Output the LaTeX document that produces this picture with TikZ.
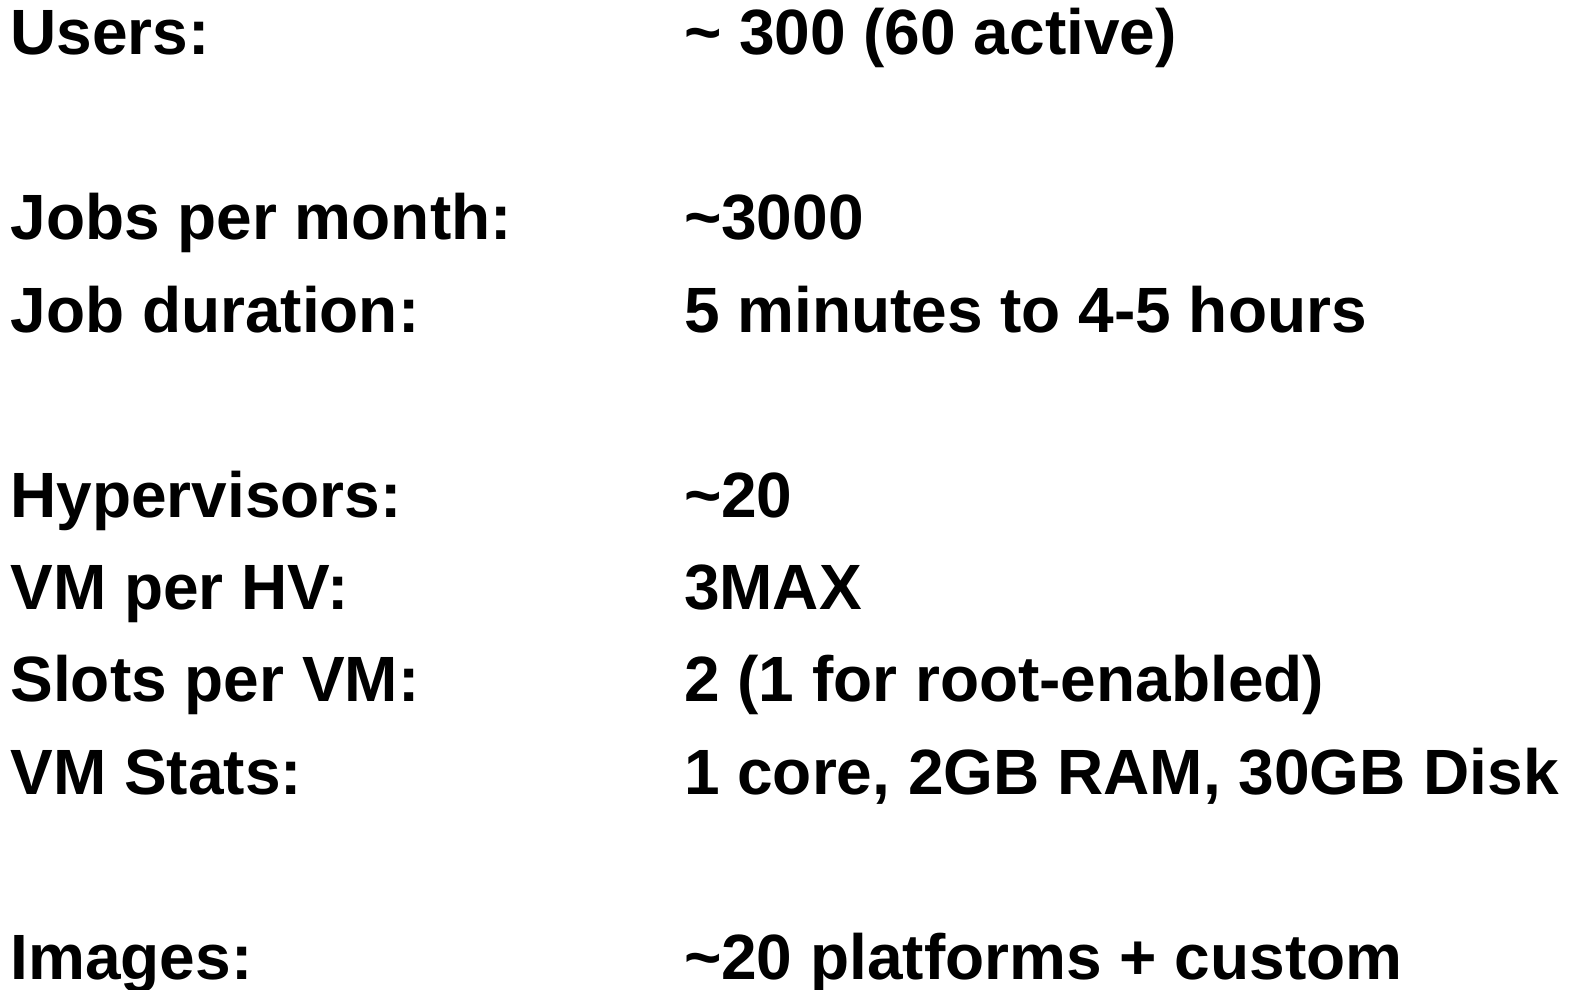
\documentclass[tikz,border=0pt]{standalone}
\usepackage{fontspec}
\setmainfont{Liberation Sans}
\begin{document}
\begin{tikzpicture}[x=1pt,y=1pt,
  cell/.style={anchor=base west,inner sep=0pt,outer sep=0pt,
    font=\fontsize{64}{76}\selectfont\bfseries}]
\useasboundingbox (0,0) rectangle (1576,-990);
% two columns, row baselines 92.4 apart
\def\lx{10.5}
\def\rx{684}
\node[cell] (kusers)  at (\lx,-55.0)  {Users:};
\node[cell] (vusers)  at (\rx,-55.0)  {\char`\~{} 300 (60 active)};
\node[cell] (kjobs)   at (\lx,-239.8) {Jobs per month:};
\node[cell] (vjobs)   at (\rx,-239.8) {\char`\~3000};
\node[cell] (kdur)    at (\lx,-332.2) {Job duration:};
\node[cell] (vdur)    at (\rx,-332.2) {5 minutes to 4-5 hours};
\node[cell] (khv)     at (\lx,-517.0) {Hypervisors:};
\node[cell] (vhv)     at (\rx,-517.0) {\char`\~20};
\node[cell] (kvmhv)   at (\lx,-609.4) {VM per HV:};
\node[cell] (vvmhv)   at (\rx,-609.4) {3MAX};
\node[cell] (kslots)  at (\lx,-701.8) {Slots per VM:};
\node[cell] (vslots)  at (\rx,-701.8) {2 (1 for root-enabled)};
\node[cell] (kstats)  at (\lx,-794.2) {VM Stats:};
\node[cell] (vstats)  at (\rx,-794.2) {1 core, 2GB RAM, 30GB Disk};
\node[cell] (kimg)    at (\lx,-979.0) {Images:};
\node[cell] (vimg)    at (\rx,-979.0) {\char`\~20 platforms + custom};
\end{tikzpicture}
\end{document}
